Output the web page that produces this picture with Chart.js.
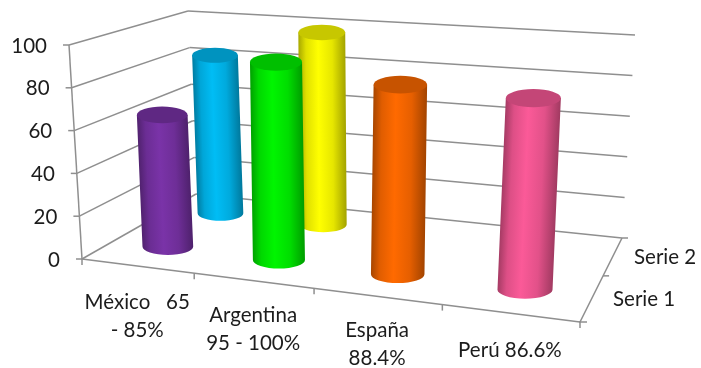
<!DOCTYPE html>
<html><head><meta charset="utf-8">
<script src="https://cdn.jsdelivr.net/npm/chart.js@4/dist/chart.umd.js"></script>
<style>html,body{margin:0;padding:0;background:#fff}#w{width:701px;height:368px}</style>
</head><body><div id="w"><canvas id="c"></canvas></div>
<script>
const categories = [['México   65','- 85%'], ['Argentina','95 - 100%'], ['España','88.4%'], ['Perú 86.6%']];
const serie1 = [65, 95, 88.4, 86.6];
const serie2 = [85, 100, null, null];
const serie1Colors = ['#7a33a8','#00f500','#ff6a00','#fb5a98'];
const serie2Colors = ['#00bdf5','#ffff00',null,null];

// Box corners of the 3D view
const box = {
  fl0:[82,259], fr0:[580,322], br0:[622,238], bl0:[196,194],
  fl1:[69,45],  fr1:[593,93],  br1:[635,35],  bl1:[188,11]
};
const mix=(a,b,t)=>[a[0]+(b[0]-a[0])*t,a[1]+(b[1]-a[1])*t];
const pu=u=>u/(u+1.146*(1-u));
const pv=v=>v/(v+0.82*(1-v));
function P(u,v,w){
  const U=pu(u),V=pv(v);
  const bot=mix(mix(box.fl0,box.fr0,U),mix(box.bl0,box.br0,U),V);
  const top=mix(mix(box.fl1,box.fr1,U),mix(box.bl1,box.br1,U),V);
  return mix(bot,top,w);
}
function shade(hex,f){
  const n=parseInt(hex.slice(1),16);
  const c=[n>>16,(n>>8)&255,n&255].map(x=>Math.round(x*f));
  return `rgb(${c[0]},${c[1]},${c[2]})`;
}
const frac=(s,px)=>(px-s.left)/s.width;
const wfrac=(s,px)=>(s.bottom-px)/s.height;

class Cylinder3DController extends Chart.BarController {
  static id='cylinder3d';
  static defaults=Chart.BarController.defaults;
  static overrides=Chart.BarController.overrides;
  draw(){
    const chart=this.chart, ctx=chart.ctx, meta=this._cachedMeta;
    const xs=chart.scales.x, ys=chart.scales.y;
    const v=(this.index+0.5)/chart.data.datasets.length;
    const colors=this.getDataset().backgroundColor;
    meta.data.forEach((el,i)=>{
      const val=this.getParsed(i).y;
      if(val===null||val===undefined||isNaN(val))return;
      const u=frac(xs,el.x);
      // slight height correction for the view's foreshortening
      const squash=(0.975+0.04*pu(u))*(1-0.01*this.index);
      const b=P(u,v,wfrac(ys,el.base)), t=P(u,v,wfrac(ys,el.y)*squash);
      const W=el.width*(0.95+0.11*pu(u))*(1-0.2*(pv(v)-0.29));
      const r=W/2, ry=W*0.165, col=colors[i];
      const g=ctx.createLinearGradient(b[0]-r,0,b[0]+r,0);
      g.addColorStop(0,shade(col,0.66));
      g.addColorStop(0.16,shade(col,0.88));
      g.addColorStop(0.42,shade(col,1));
      g.addColorStop(0.72,shade(col,0.9));
      g.addColorStop(1,shade(col,0.64));
      ctx.save();
      ctx.beginPath();
      ctx.moveTo(t[0]-r,t[1]);
      ctx.lineTo(b[0]-r,b[1]);
      ctx.ellipse(b[0],b[1],r,ry,0,Math.PI,0,true);
      ctx.lineTo(t[0]+r,t[1]);
      ctx.closePath();
      // shear the gradient so it follows the leaning cylinder
      const shear=(t[0]-b[0])/(t[1]-b[1]);
      ctx.save();
      ctx.transform(1,0,shear,1,-shear*b[1],0);
      ctx.fillStyle=g;
      ctx.fill();
      ctx.restore();
      ctx.fillStyle=shade(col,0.78);
      ctx.beginPath();
      ctx.ellipse(t[0],t[1],r,ry,0,0,Math.PI*2);
      ctx.fill();
      ctx.restore();
    });
  }
}
Chart.register(Cylinder3DController);

const FONT='Lato';
const INK='#1c1c1c';
const frame={
  id:'frame',
  beforeDraw(chart){
    const xs=chart.scales.x, ys=chart.scales.y;
    ys.getLabelItems(chart.chartArea).forEach((it,i)=>{
      const p=P(0,0,wfrac(ys,ys.getPixelForTick(i)));
      it.textOffset=0; it.options.textAlign='right'; it.options.textBaseline='middle';
      it.options.translation=[p[0]-22,p[1]+1];
    });
    const shifts=[36,35,34,37];
    xs.getLabelItems(chart.chartArea).forEach((it,i)=>{
      const p=P(frac(xs,xs.getPixelForTick(i)),0,0);
      it.textOffset=0; it.options.textAlign='center'; it.options.textBaseline='middle';
      it.options.translation=[p[0],p[1]+shifts[i]];
    });
  },
  beforeDatasetsDraw(chart){
    const ctx=chart.ctx, ys=chart.scales.y;
    const line=(a,b)=>{ctx.beginPath();ctx.moveTo(a[0],a[1]);ctx.lineTo(b[0],b[1]);ctx.stroke();};
    ctx.save();
    ctx.strokeStyle='#8f8f8f'; ctx.lineWidth=1.5;
    ys.ticks.forEach((t,i)=>{
      const w=wfrac(ys,ys.getPixelForTick(i));
      const a=P(0,0,w), b=P(0,1,w), c=P(1,1,w);
      line(a,b); line(b,c);
      line([a[0]-6,a[1]],a);
    });
    line(P(0,0,0),P(0,0,1));
    line(P(0,0,0),P(1,0,0));
    line(P(1,0,0),P(1,1,0));
    const n=chart.data.labels.length;
    for(let i=0;i<=n;i++){
      const p=P(i/n,0,0);
      line(p,[p[0],p[1]+6]);
    }
    const m=P(1,0.5,0);
    line(m,[m[0]+6,m[1]]);
    const e=P(1,1,0);
    line(e,[e[0]+6,e[1]]);
    const s=P(1,0,0);
    line([s[0]-1,s[1]],[s[0]+7,s[1]]);
    // depth axis labels
    ctx.fillStyle=INK; ctx.font='20.5px '+FONT; ctx.textBaseline='middle'; ctx.textAlign='left';
    ctx.fillText(chart.data.datasets[0].label,s[0]+33,s[1]-23);
    ctx.fillText(chart.data.datasets[1].label,e[0]+12,e[1]+19);
    ctx.restore();
  }
};

new Chart(document.getElementById('c'),{
  type:'cylinder3d',
  data:{labels:categories,datasets:[
    {label:'Serie 1',data:serie1,backgroundColor:serie1Colors,clip:false},
    {label:'Serie 2',data:serie2,backgroundColor:serie2Colors,clip:false}
  ]},
  options:{
    responsive:true,maintainAspectRatio:false,animation:false,
    layout:{padding:{top:45,left:0,right:21,bottom:0}},
    grouped:false,barPercentage:0.34,categoryPercentage:1,
    plugins:{legend:{display:false},title:{display:false},tooltip:{enabled:false}},
    scales:{
      x:{type:'category',offset:true,grid:{display:false},border:{display:false},
         afterFit(s){s.height=110;},
         ticks:{autoSkip:false,maxRotation:0,minRotation:0,color:INK,font:{family:FONT,size:20.5,lineHeight:1.37}}},
      y:{type:'linear',min:0,max:100,grid:{display:false},border:{display:false},
         afterFit(s){s.width=60;},
         ticks:{stepSize:20,color:INK,font:{family:FONT,size:20.5}}}
    }
  },
  plugins:[frame]
});
</script></body></html>
